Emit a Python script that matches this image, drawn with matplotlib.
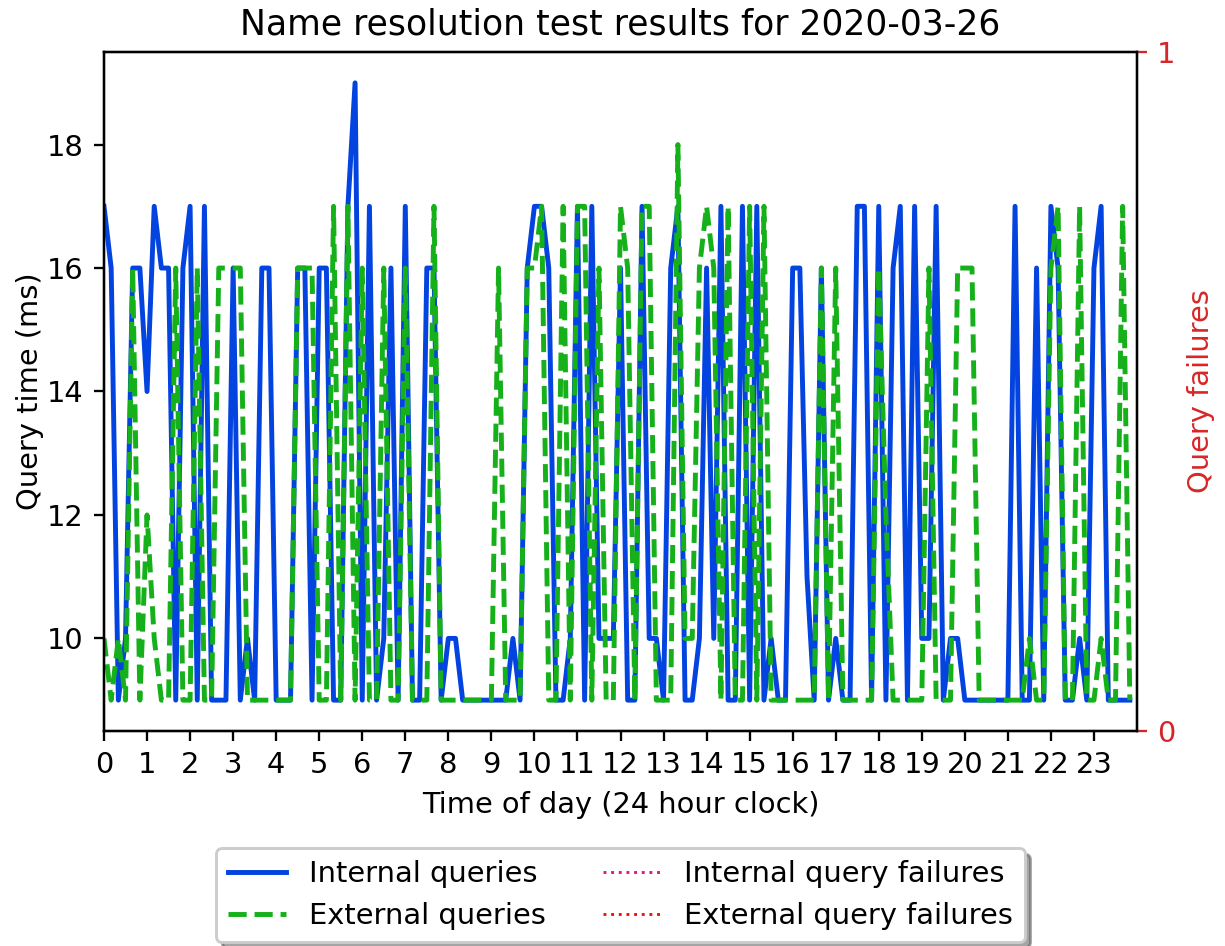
import numpy as np
import matplotlib
matplotlib.use("Agg")
import matplotlib.pyplot as plt

# Sample times: every 10 minutes, expressed in hours
hours = [i / 6 for i in range(144)]

internal_ms = [17, 16, 9, 10, 16, 16, 14, 17, 16, 16, 9, 16, 17, 9, 17, 9, 9, 9, 16, 9,
               10, 9, 16, 16, 9, 9, 9, 16, 16, 9, 16, 16, 9, 9, 17, 19, 9, 17, 9, 10,
               16, 9, 17, 9, 9, 16, 16, 9, 10, 10, 9, 9, 9, 9, 9, 9, 9, 10, 9, 16,
               17, 17, 16, 9, 9, 10, 17, 9, 17, 10, 10, 10, 16, 9, 9, 17, 10, 10, 9, 16,
               17, 9, 9, 10, 16, 10, 17, 9, 9, 17, 9, 17, 9, 10, 9, 9, 16, 16, 11, 9,
               16, 9, 10, 9, 9, 17, 17, 9, 17, 9, 16, 17, 9, 17, 10, 10, 17, 9, 10, 10,
               9, 9, 9, 9, 9, 9, 9, 17, 9, 9, 16, 9, 17, 16, 9, 9, 10, 9, 16, 17,
               9, 9, 9, 9]

external_ms = [10, 9, 10, 9, 16, 9, 12, 10, 9, 9, 16, 9, 9, 16, 9, 9, 16, 16, 16, 16,
               9, 9, 9, 9, 9, 9, 9, 16, 16, 16, 9, 9, 17, 9, 17, 9, 16, 9, 9, 16,
               9, 9, 16, 9, 9, 9, 17, 9, 9, 9, 9, 9, 9, 9, 9, 16, 9, 9, 9, 16,
               16, 17, 9, 9, 17, 9, 17, 17, 9, 16, 9, 9, 17, 16, 9, 17, 17, 9, 9, 9,
               18, 10, 10, 16, 17, 16, 9, 17, 9, 9, 17, 9, 17, 9, 9, 9, 9, 9, 9, 9,
               16, 9, 16, 9, 9, 9, 9, 9, 16, 12, 9, 9, 9, 9, 9, 16, 9, 9, 9, 16,
               16, 16, 9, 9, 9, 9, 9, 9, 9, 10, 9, 9, 16, 17, 9, 9, 17, 9, 9, 10,
               9, 9, 17, 9]

internal_failures = [0] * 144
external_failures = [0] * 144

hour_ticks = list(range(24))

DPI = 208
fig = plt.figure(figsize=(1225 / DPI, 946 / DPI), dpi=DPI)
ax = fig.add_axes([104 / 1225, 1 - 731 / 946, (1137 - 104) / 1225, (731 - 52) / 946])
ax2 = ax.twinx()

l1, = ax.plot(hours, internal_ms, color="#0343df", lw=1.7, ls="-", label="Internal queries")
l2, = ax.plot(hours, external_ms, color="#15b01a", lw=1.7, ls="--", label="External queries")
l3, = ax2.plot(hours, internal_failures, color="#e0157f", lw=1.0, ls=":", label="Internal query failures")
l4, = ax2.plot(hours, external_failures, color="#f01010", lw=1.0, ls=":", label="External query failures")

ax.set_xlim(0, 24)
ax.set_xticks(hour_ticks)
ax.set_xticklabels([str(h) for h in hour_ticks])
ax.set_xlabel("Time of day (24 hour clock)")
ax.set_ylabel("Query time (ms)", labelpad=1)
ax.set_title("Name resolution test results for 2020-03-26")

ax2.set_ylim(0, 1)
ax2.set_yticks([0, 1])
ax2.set_ylabel("Query failures", color="#d62728")
ax2.tick_params(axis="y", colors="#d62728")

fig.legend(handles=[l1, l2, l3, l4], loc="upper center", ncol=2,
           bbox_to_anchor=(620.5 / 1225, 1 - 834 / 946), shadow=True, fancybox=True)

fig.savefig("out.png", dpi=DPI)
